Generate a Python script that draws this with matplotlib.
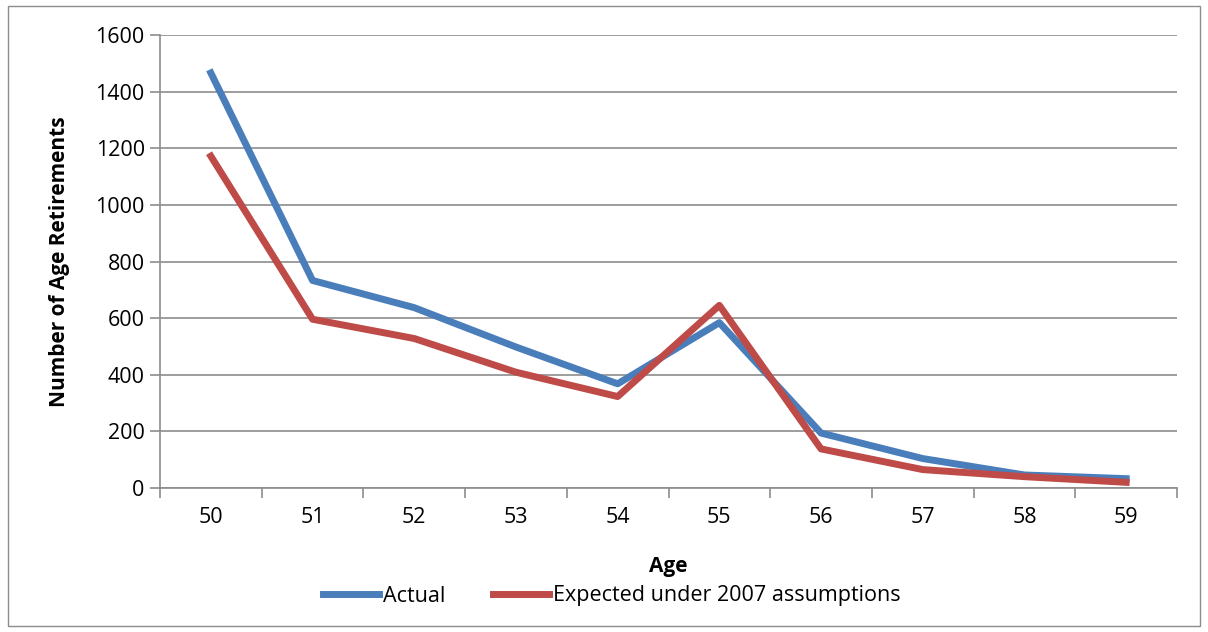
import numpy as np
import matplotlib.pyplot as plt
from matplotlib.patches import Rectangle

ages = ["50", "51", "52", "53", "54", "55", "56", "57", "58", "59"]
actual = [1466, 733, 637, 498, 368, 584, 194, 104, 46, 33]
expected = [1172, 596, 528, 409, 323, 645, 138, 65, 40, 20]

plt.rcParams['font.family'] = ['Open Sans', 'DejaVu Sans']

fig = plt.figure(figsize=(12.08, 6.32), dpi=100)
ax = fig.add_axes([160 / 1208, 1 - 488 / 632, (1177 - 160) / 1208, (488 - 35) / 632])

# border around the chart
fig.patches.append(Rectangle((8 / 1208, 6 / 632), 1192 / 1208, 620 / 632,
                             transform=fig.transFigure, fill=False,
                             edgecolor="#8c8c8c", linewidth=1))

x = np.arange(len(ages))
ax.plot(x, actual, color="#4a7ebb", linewidth=5, label="Actual")
ax.plot(x, expected, color="#be4b48", linewidth=5, label="Expected under 2007 assumptions")

ax.set_xlim(-0.5, len(ages) - 0.5)
ax.set_ylim(0, 1600)
ax.set_yticks(range(0, 1601, 200))
ax.yaxis.grid(True, color="#8c8c8c", linewidth=1.2)
ax.set_axisbelow(True)

ax.set_xticks(np.arange(-0.5, len(ages), 1))
ax.set_xticklabels([])
ax.set_xticks(x, minor=True)
ax.set_xticklabels(ages, minor=True)
ax.tick_params(axis="x", which="major", length=7, width=1.2, color="#8c8c8c", direction="out")
ax.tick_params(axis="x", which="minor", length=0, pad=14, labelsize=15.5)
ax.tick_params(axis="y", length=7, width=1.2, color="#8c8c8c", labelsize=15.5, pad=4)

for s in ["top", "right"]:
    ax.spines[s].set_visible(False)
for s in ["left", "bottom"]:
    ax.spines[s].set_color("#8c8c8c")
    ax.spines[s].set_linewidth(1.2)

ax.set_xlabel("Age", fontsize=15, fontweight="bold", labelpad=20)
ax.set_ylabel("Number of Age Retirements", fontsize=15, fontweight="bold", labelpad=18)

fig.legend(loc="center", bbox_to_anchor=(612 / 1208, 1 - 596 / 632), ncol=2,
           frameon=False, fontsize=15.5, handlelength=2.6, columnspacing=2.2, handletextpad=0.2)

fig.savefig("out.png", dpi=100)
